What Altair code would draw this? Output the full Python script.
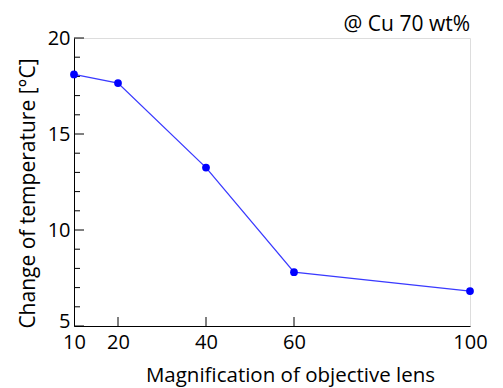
import altair as alt
import pandas as pd

magnification = [10, 20, 40, 60, 100]
temperature = [18.1, 17.65, 13.25, 7.8, 6.82]

x_tick_values = [10, 20, 40, 60, 100]
y_tick_values = [5, 10, 15, 20]
y_minor_values = [6, 7, 8, 9, 11, 12, 13, 14, 16, 17, 18, 19]
x_inner_ticks = [20, 40, 60]
annotation = ["@ Cu 70 wt%"]

FONT = "Open Sans"
W, H = 396, 288

df = pd.DataFrame({"mag": magnification, "temp": temperature})
xscale = alt.Scale(domain=[10, 100], nice=False, zero=False)
yscale = alt.Scale(domain=[5, 20], nice=False, zero=False)

x_enc = alt.X(
    "mag:Q", scale=xscale,
    axis=alt.Axis(
        values=x_tick_values, ticks=False, grid=False, labelPadding=6,
        labelFontSize=20, labelFont=FONT, labelColor="black",
        domainColor="black", title="Magnification of objective lens",
        titleFontSize=20.5, titleFont=FONT, titleFontWeight="normal", titleColor="black",
        titleY=55, titleX=216, titleBaseline="alphabetic", titleAlign="center",
        labelFlush=False,
    ),
)
y_enc = alt.Y(
    "temp:Q", scale=yscale,
    axis=alt.Axis(
        values=y_tick_values, ticks=False, grid=False, labelPadding=4,
        labelFontSize=20, labelFont=FONT, labelColor="black",
        labelOffset={"condition": {"test": "datum.value === 5", "value": -5}, "value": 0},
        domainColor="black", title="Change of temperature [°C]",
        titleFontSize=21, titleFont=FONT, titleFontWeight="normal", titleColor="black",
        titleX=-36, titleY=155, titleAngle=-90, titleBaseline="bottom", titleAlign="center",
        labelFlush=False,
    ),
)

line = alt.Chart(df).mark_line(color="#3a3aff", strokeWidth=1.3).encode(x=x_enc, y=y_enc)
points = alt.Chart(df).mark_point(filled=True, color="#0000ff", size=60, opacity=1).encode(
    x=alt.X("mag:Q", scale=xscale), y=alt.Y("temp:Q", scale=yscale)
)

ymaj = alt.Chart(pd.DataFrame({"v": y_tick_values})).mark_rule(color="black", strokeWidth=1).encode(
    y=alt.Y("v:Q", scale=yscale), x=alt.value(0), x2=alt.value(10)
)
ymin = alt.Chart(pd.DataFrame({"v": y_minor_values})).mark_rule(color="black", strokeWidth=1).encode(
    y=alt.Y("v:Q", scale=yscale), x=alt.value(0), x2=alt.value(6)
)
xin = alt.Chart(pd.DataFrame({"v": x_inner_ticks})).mark_rule(color="black", strokeWidth=1).encode(
    x=alt.X("v:Q", scale=xscale), y=alt.value(H), y2=alt.value(H - 9)
)
note = alt.Chart(pd.DataFrame({"t": annotation})).mark_text(
    align="right", baseline="alphabetic", fontSize=21, font=FONT, color="black"
).encode(text="t:N", x=alt.value(W), y=alt.value(-7))

chart = (
    alt.layer(ymaj, ymin, xin, line, points, note)
    .properties(
        width=W, height=H,
        autosize=alt.AutoSizeParams(type="none"),
        padding={"left": 66, "top": 30, "right": 25, "bottom": 62},
    )
    .configure_view(stroke="black", strokeWidth=1)
    .configure(background="white")
)

chart.save("out.html", embed_options={"renderer": "svg", "actions": False})
